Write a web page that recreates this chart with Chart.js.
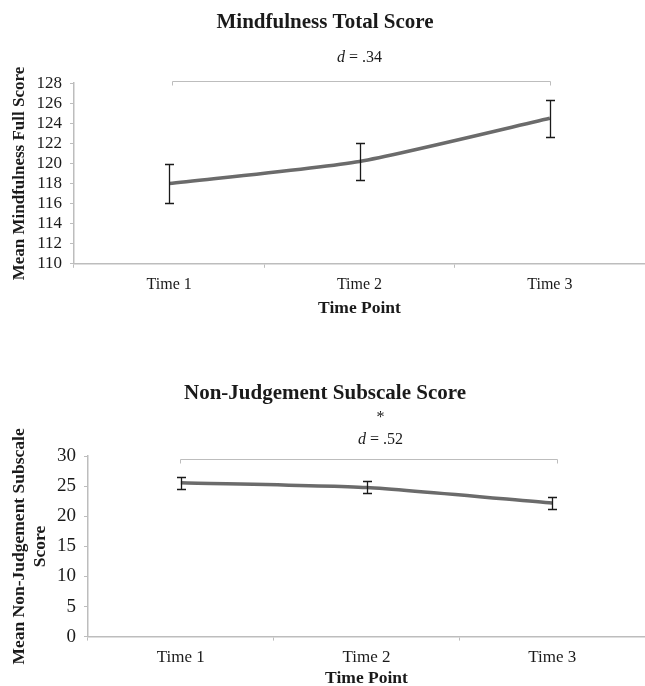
<!DOCTYPE html>
<html>
<head>
<meta charset="utf-8">
<script src="https://cdn.jsdelivr.net/npm/chart.js@4/dist/chart.umd.min.js"></script>
<style>
  body{margin:0;background:#fff;width:645px;height:686px;position:relative;overflow:hidden}
  .box{position:absolute;left:0;width:645px}
  #box1{top:0;height:319px}
  #box2{top:365px;height:324px}
</style>
</head>
<body>
<div class="box" id="box1"><canvas id="totalChart"></canvas></div>
<div class="box" id="box2"><canvas id="nonJudgeChart"></canvas></div>
<script>
/* data */
const timePoints = ['Time 1', 'Time 2', 'Time 3'];

const totalMeans = [118.0, 120.2, 124.5];
const totalErr   = [1.9, 1.85, 1.85];
const totalTicks = [110, 128, 2];        // min, max, step
const totalEffect = '.34';

const nonJudgeMeans = [25.6, 24.8, 22.2];
const nonJudgeErr   = [1.0, 1.0, 1.05];
const nonJudgeTicks = [0, 30, 5];
const nonJudgeEffect = '.52';
const nonJudgeSig = '*';

const SERIF = '"Liberation Serif", "Times New Roman", serif';

const errorBars = {
  id:'errorBars',
  afterDatasetsDraw(chart, args, o){
    const {ctx, scales:{x, y}} = chart;
    const vals = chart.data.datasets[0].data;
    ctx.save();
    ctx.strokeStyle = o.color;
    ctx.lineWidth = o.width;
    vals.forEach((v, i)=>{
      const px = Math.round(x.getPixelForValue(i)) + 0.5;
      const top = Math.round(y.getPixelForValue(v + o.errors[i])) + 0.5;
      const bot = Math.round(y.getPixelForValue(v - o.errors[i])) + 0.5;
      ctx.beginPath();
      ctx.moveTo(px, top); ctx.lineTo(px, bot);
      ctx.moveTo(px - o.cap, top); ctx.lineTo(px + o.cap, top);
      ctx.moveTo(px - o.cap, bot); ctx.lineTo(px + o.cap, bot);
      ctx.stroke();
    });
    ctx.restore();
  }
};

const bracket = {
  id:'bracket',
  afterDraw(chart, args, o){
    const {ctx, chartArea, scales:{x}} = chart;
    const x1 = Math.round(x.getPixelForValue(o.from) + o.inset[0]) + 0.5;
    const x2 = Math.round(x.getPixelForValue(o.to) + o.inset[1]) + 0.5;
    const yb = Math.round(chartArea.top + o.offset) + 0.5;
    ctx.save();
    ctx.strokeStyle = o.color;
    ctx.lineWidth = 1;
    ctx.beginPath();
    ctx.moveTo(x1, yb + o.drop);
    ctx.lineTo(x1, yb);
    ctx.lineTo(x2, yb);
    ctx.lineTo(x2, yb + o.drop);
    ctx.stroke();

    // "d = .xx" with italic d
    const cx = x.getPixelForValue(o.labelAt) + o.labelShift;
    const ty = chartArea.top + o.textOffset;
    const it = 'italic ' + o.size + 'px ' + SERIF;
    const rm = o.size + 'px ' + SERIF;
    const rest = ' = ' + o.effect;
    ctx.font = it; const w1 = ctx.measureText('d').width;
    ctx.font = rm; const w2 = ctx.measureText(rest).width;
    let sx = cx - (w1 + w2) / 2;
    ctx.fillStyle = o.textColor;
    ctx.textBaseline = 'middle';
    ctx.textAlign = 'left';
    ctx.font = it; ctx.fillText('d', sx, ty);
    ctx.font = rm; ctx.fillText(rest, sx + w1, ty);
    if(o.sig){
      ctx.textAlign = 'center';
      ctx.fillText(o.sig, cx, chartArea.top + o.sigOffset);
    }
    ctx.restore();
  }
};

function makeChart(id, cfg){
  return new Chart(document.getElementById(id), {
    type:'line',
    data:{
      labels: timePoints,
      datasets:[{
        data: cfg.means,
        borderColor:'#6b6b6b',
        borderWidth:3.5,
        pointRadius:0,
        tension:0.2,
        fill:false
      }]
    },
    options:{
      responsive:true,
      maintainAspectRatio:false,
      animation:false,
      layout:{padding:{top:0, right:0, bottom:0, left:5}},
      plugins:{
        legend:{display:false},
        tooltip:{enabled:false},
        title:{
          display:true,
          text: cfg.title,
          color:'#1a1a1a',
          font:{family:SERIF, size:21, weight:'bold', lineHeight:1.2},
          padding:{top: cfg.titleTop, bottom: cfg.titleBottom},
          align:'center'
        },
        errorBars:{errors: cfg.errors, color:'#1a1a1a', width:1.3, cap:4.5},
        bracket: cfg.bracket
      },
      scales:{
        x:{
          offset:true,
          grid:{display:true, offset:true, drawOnChartArea:false, drawTicks:true, tickLength:4, color:'#bdbdbd'},
          border:{display:true, color:'#bdbdbd', width:1.5},
          ticks:{color:'#1a1a1a', padding:7, font:{family:SERIF, size: cfg.xTickSize}},
          title:{
            display:true, text:'Time Point', color:'#1a1a1a',
            font:{family:SERIF, size:17.5, weight:'bold', lineHeight:1.2},
            padding:{top: cfg.xTitleTop, bottom:0}
          }
        },
        y:{
          min: cfg.ticks[0],
          max: cfg.ticks[1],
          afterFit(s){ s.width = cfg.axisX - 5; },
          grid:{display:true, drawOnChartArea:false, drawTicks:true, tickLength:4, color:'#bdbdbd'},
          border:{display:true, color:'#bdbdbd', width:1.5},
          ticks:{stepSize: cfg.ticks[2], autoSkip:false, color:'#1a1a1a', padding:8, font:{family:SERIF, size: cfg.yTickSize}},
          title:{
            display:true, text: cfg.yTitle, color:'#1a1a1a',
            font:{family:SERIF, size: cfg.yTitleSize, weight:'bold', lineHeight:1.2},
            padding:{top:4, bottom:4}
          }
        }
      }
    },
    plugins:[errorBars, bracket]
  });
}

makeChart('totalChart', {
  title:'Mindfulness Total Score',
  means: totalMeans,
  errors: totalErr,
  ticks: totalTicks,
  titleTop:10, titleBottom:48,
  axisX:74,
  xTickSize:16, yTickSize:17, xTitleTop:-3,
  yTitle:'Mean Mindfulness Full Score', yTitleSize:17,
  bracket:{from:0, to:2, inset:[3, 0], offset:-2, drop:4, color:'#bdbdbd',
           labelAt:1, labelShift:0, textOffset:-25, size:16, effect: totalEffect,
           textColor:'#1a1a1a'}
});

makeChart('nonJudgeChart', {
  title:'Non-Judgement Subscale Score',
  means: nonJudgeMeans,
  errors: nonJudgeErr,
  ticks: nonJudgeTicks,
  titleTop:16, titleBottom:50,
  axisX:88,
  xTickSize:17, yTickSize:19, xTitleTop:-7,
  yTitle:['Mean Non-Judgement Subscale', 'Score'], yTitleSize:17.5,
  bracket:{from:0, to:2, inset:[-1, 5], offset:3, drop:4, color:'#bdbdbd',
           labelAt:1, labelShift:14, textOffset:-16, size:16, effect: nonJudgeEffect,
           sig: nonJudgeSig, sigOffset:-38, textColor:'#1a1a1a'}
});
</script>
</body>
</html>
